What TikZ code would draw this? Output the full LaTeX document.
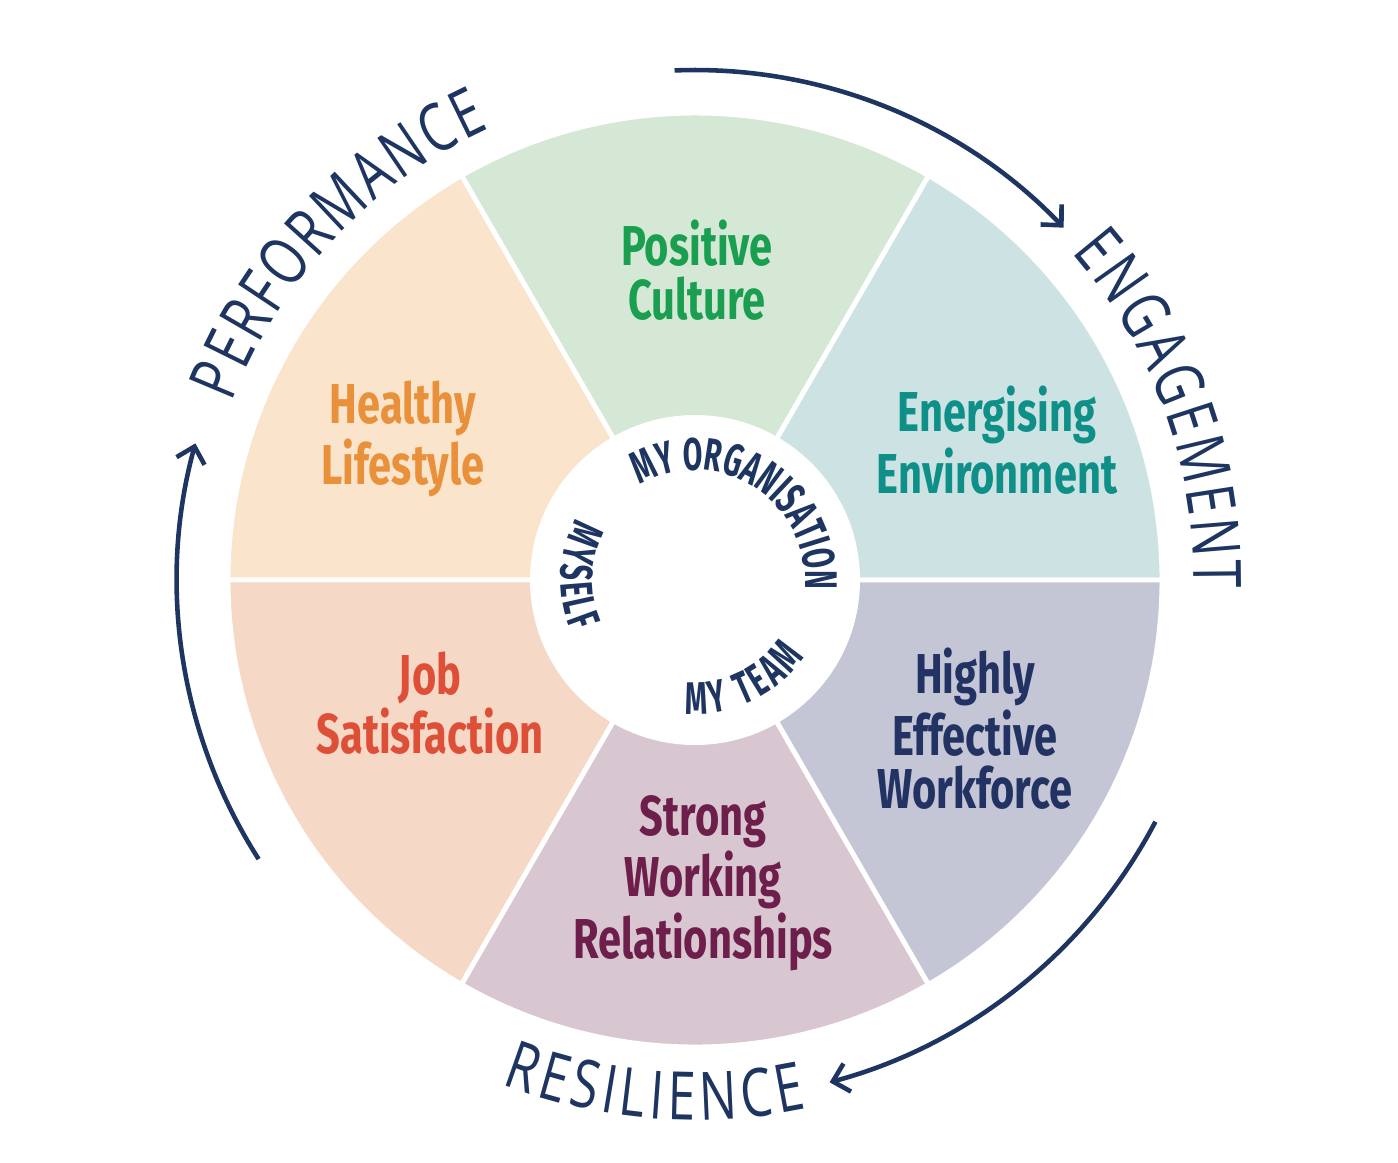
\documentclass[tikz,border=0pt]{standalone}
\usepackage{fontspec}
\usetikzlibrary{arrows.meta,decorations.text}
\newfontfamily\wedgefont{Fira Sans}[FakeStretch=0.74]
\newfontfamily\ringfont{Fira Sans}[FakeStretch=0.62]
\newfontfamily\handfont{Open Sans}[FakeStretch=0.75]
\definecolor{navy}{HTML}{1D3560}
\definecolor{cultureback}{HTML}{D5E8D5}
\definecolor{culturetext}{HTML}{1A9E50}
\definecolor{energyback}{HTML}{CDE3E3}
\definecolor{energytext}{HTML}{0E9088}
\definecolor{healthback}{HTML}{FAE4CC}
\definecolor{healthtext}{HTML}{E8913A}
\definecolor{jobback}{HTML}{F6D8C6}
\definecolor{jobtext}{HTML}{DE4F38}
\definecolor{strongback}{HTML}{D8C7D0}
\definecolor{strongtext}{HTML}{6D1E4B}
\definecolor{workback}{HTML}{C4C6D6}
\definecolor{worktext}{HTML}{213263}
\begin{document}
\begin{tikzpicture}
			[scale=1, wedge/.style={draw=white, line width=1.4pt, line join=round},
			wedgetext/.style={align=center, inner sep=0pt, font=\wedgefont\bfseries\fontsize{16}{15.2}\selectfont},
			ringword/.style={decorate, decoration={text along path, text align=center, text color=navy,
				text={|\ringfont\bfseries\fontsize{13}{13}\selectfont|#1}}},
			ringspread/.style={ringword=#1, decoration={text align=fit to path}},
			handword/.style={decorate, decoration={text along path, text align=fit to path, text color=navy,
				text={|\handfont\fontsize{19}{19}\selectfont|#1}}},
			cyclearrow/.style={draw=navy, line width=1.3pt, -{Straight Barb[length=1.5mm,width=2.9mm]}}]
			\useasboundingbox (-6.95,-5.82) rectangle (7.03,5.80);
			\begin{scope}
				\path[wedge, fill=energyback] (0,0) -- (0:4.67) arc[start angle=0, end angle=60, radius=4.67] -- cycle;
				\path[wedge, fill=cultureback] (0,0) -- (60:4.67) arc[start angle=60, end angle=120, radius=4.67] -- cycle;
				\path[wedge, fill=healthback] (0,0) -- (120:4.67) arc[start angle=120, end angle=180, radius=4.67] -- cycle;
				\path[wedge, fill=jobback] (0,0) -- (180:4.67) arc[start angle=180, end angle=240, radius=4.67] -- cycle;
				\path[wedge, fill=strongback] (0,0) -- (240:4.67) arc[start angle=240, end angle=300, radius=4.67] -- cycle;
				\path[wedge, fill=workback] (0,0) -- (300:4.67) arc[start angle=300, end angle=360, radius=4.67] -- cycle;
				\node[circle, fill=white, minimum size=3.3cm, inner sep=0pt] (hub) at (0,0) {};
			\end{scope}
			\node[wedgetext, text=culturetext] (culture) at (0.02,3.10) {Positive\\Culture};
			\node[wedgetext, text=energytext] (energy) at (3.02,1.40) {Energising\\Environment};
			\node[wedgetext, text=healthtext] (health) at (-2.92,1.41) {Healthy\\Lifestyle};
			\node[wedgetext, text=jobtext] (job) at (-2.65,-1.23) {Job\\Satisfaction};
			\node[wedgetext, text=worktext] (workforce) at (2.80,-1.49) {Highly\\Effective\\Workforce};
			\node[wedgetext, text=strongtext] (strong) at (0.08,-3.03) {Strong\\Working\\Relationships};
			\begin{scope}
				\path[ringword=MY ORGANISATION] (140:1.10) arc[start angle=140, end angle=-25, radius=1.10];
				\path[ringspread=MYSELF] (153:1.34) arc[start angle=153, end angle=203, radius=1.34];
				\path[ringspread=MY TEAM] (266:1.34) arc[start angle=266, end angle=325, radius=1.34];
			\end{scope}
			\begin{scope}
				\path[handword=PERFORMANCE] (159:4.96) arc[start angle=159, end angle=114.5, radius=4.96];
				\path[handword=ENGAGEMENT] (41:4.99) arc[start angle=41, end angle=-1, radius=4.99];
				\path[handword=RESILIENCE] (249:5.40) arc[start angle=249, end angle=282, radius=5.40];
			\end{scope}
			\begin{scope}
				\coordinate (perfstart) at (212.6:5.18);
				\coordinate (engstart) at (92.3:5.10);
				\coordinate (resstart) at (-27.7:5.20);
				\draw[cyclearrow] (perfstart) arc[start angle=212.6, end angle=164.7, radius=5.18];
				\draw[cyclearrow] (engstart) arc[start angle=92.3, end angle=43.7, radius=5.10];
				\draw[cyclearrow] (resstart) arc[start angle=-27.7, end angle=-75, radius=5.20];
			\end{scope}
		\end{tikzpicture}
\end{document}
